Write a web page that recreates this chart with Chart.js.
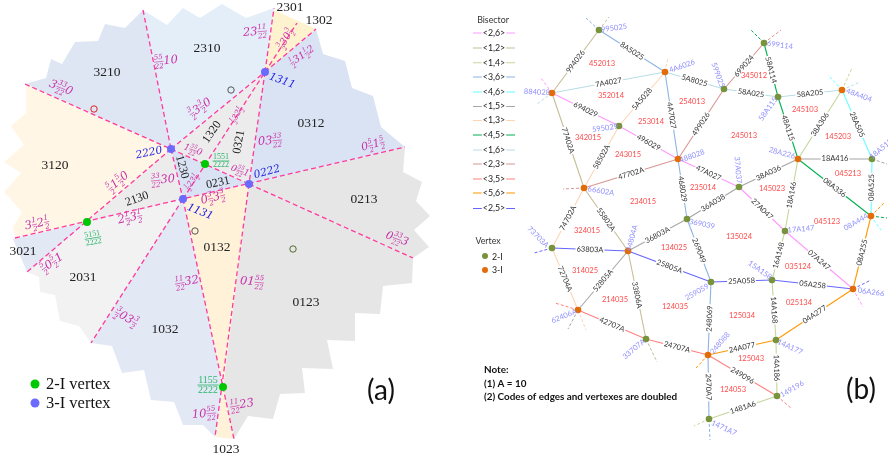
<!DOCTYPE html>
<html>
<head>
<meta charset="utf-8">
<style>html,body{margin:0;background:#fff}canvas{display:block}</style>
<script src="https://cdn.jsdelivr.net/npm/chart.js@4/dist/chart.umd.js"></script>
</head>
<body>
<canvas id="myChart" width="888" height="460"></canvas>
<script>
// ---- panel (a) data, in picture units ----
const regionNames = ['3210','2310','2301','0312','0213','0123','1023','0132','1032','2031','3021','3120','2130','1230','0231','1320','0321']
const regionShapes = [
    [[143,10],[125,28],[105,24],[98,41],[75,42],[62,64],[51,59],[46,78],[25,84],[171,149]],
    [[143,10],[167,25],[183,8],[200,18],[222,4],[246,18],[274,8],[265,72],[171,149]],
    [[274,10],[316,29],[265,72]],
    [[265,72],[316,29],[323,54],[345,61],[352,88],[373,96],[381,127],[405,147],[249,184]],
    [[249,184],[405,147],[403,172],[422,182],[416,201],[430,216],[414,230],[429,247],[413,258]],
    [[249,184],[413,258],[412,283],[383,286],[380,314],[355,313],[355,341],[327,340],[333,369],[302,368],[305,393],[280,394],[273,419],[248,416],[234,439],[223,387]],
    [[223,387],[234,439],[215,437]],
    [[183,199],[249,184],[223,387]],
    [[183,199],[223,387],[215,437],[203,425],[183,425],[174,402],[151,400],[144,370],[122,373],[112,346],[91,343]],
    [[183,199],[91,343],[79,326],[60,321],[55,295],[40,292],[39,277],[27,272],[87,222]],
    [[87,222],[27,272],[13,239]],
    [[25,84],[171,149],[87,222],[15,238],[13,227],[22,212],[4,192],[21,173],[4,162],[24,145],[11,126],[26,113],[26,87]],
    [[171,149],[183,199],[87,222]],
    [[171,149],[205,164],[183,199]],
    [[183,199],[205,164],[249,184]],
    [[171,149],[265,72],[205,164]],
    [[205,164],[265,72],[249,184]]
]
const regionColors = ['#dfe6f3','#e4eef9','#fff2cf','#dae3f3','#e6e6e6','#e6e6e6','#fff2d9','#fff2d9','#e3e8f5','#f2f2f2','#e3e8f5','#fff6e5','#ececec','#dae3f3','#dae3f3','#ececec','#ececec']

const bisectorLines = [
    [25,84,171,149],[143,10,171,149],[171,149,183,199],[171,149,265,72],[171,149,249,184],[249,184,413,258],
    [183,199,265,72],[171,149,27,272],[15,238,405,147],[183,199,91,343],[183,199,234,439],[249,184,215,437],
    [265,72,249,184],[265,72,274,8],[265,72,316,29],[265,72,297,23]
]
const twoIVertex = [[205,164],[87,222],[223,387]]
const threeIVertex = [[171,149],[183,199],[249,184],[265,72]]
const hollowPoints = [[94,109],[231,90],[195,231],[293,249]]
const hollowColors = ['#e02020','#555555','#555555','#4f6b2f']

// region code, x, y, angle
const codeLabels = [
    ['3210',107,72,0],['2310',207,48,0],['3120',55,165,0],['0312',311,123,0],['0213',364,199,0],['0123',306,302,0],
    ['1032',165,329,0],['0132',217,247,0],['2031',83,277,0],['3021',23,251,0],['1023',226,449,0],['2301',290,7,0],['1302',319,20,0],
    ['1230',182,167,75],['1320',212,132,-55],['0321',239,142,-80],['0231',218,183,-12],['2130',137,199,-20]
]
// bisector code with fractions, x, y, angle, size
const fracLabels = [
    ['3 33/22 0',61,88,22,11.5],['55/22 10',166,61,-6,11.5],['3/2 3 3/2 0',200,108,-35,11.5],['5/2 1 5/2 0',118,182,-40,11.5],
    ['33/22 30',163,180,-5,11.5],['1 55/22 0',193,150,20,9],['2 1/2 3 1/2',130,218,-12,11.5],['3 1/2 2 1/2',37,224,-12,11.5],
    ['1/2 23 1/2',192,182,-55,8],['1/2 32 1/2',237,115,-60,8],['0 3/2 3 3/2',213,198,-15,11.5],['0 55/22 1',240,171,20,9],
    ['23 11/22',255,32,-5,11.5],['3/2 30 3/2',286,39,-60,10],['1/2 31 1/2 2',302,56,-35,10],['03 33/22',270,141,-5,11.5],
    ['0 5/2 1 5/2',373,145,-15,11],['0 33/22 3',397,239,20,11],['01 55/22',252,282,5,11.5],['11/22 32',187,282,-10,11.5],
    ['10 55/22',204,414,-5,11.5],['11/22 23',242,405,-10,11.5],['3/2 0 3 3/2',126,318,30,11.5],['5/2 0 5/2 1',52,263,-35,11.5]
]
// numerator, denominator, x, y, angle, size
const greenFractions = [['1551','2222',221,161,0,8],['5151','2222',93,238,-10,8],['1155','2222',208,385,0,10]]
const blueCodes = [['2220',149,153,-12],['1131',200,212,22],['0222',267,172,-15],['1311',282,81,20]]

// ---- panel (b) data ----
const bisectorNames = ['<2,6>','<1,2>','<1,4>','<3,6>','<4,6>','<1,5>','<1,3>','<4,5>','<1,6>','<2,3>','<3,5>','<5,6>','<2,5>']
const bisectorColors = ['#ff99ff','#c4bd97','#c3d69b','#8eb4e3','#66ffff','#a6a6a6','#fcd5b5','#00b050','#b7dee8','#d99694','#ff8080','#ff9900','#6666ff']
const legendRows = [33,48,62.7,77,92,106.5,120.5,135,150,164,179,193,208.5]

// vertex code, x, y, kind (2 or 3), label x, label y, label angle
const vertices = [
    ['995025',599,30,2,614,28,-8],['884028',552,93,3,537,92,3],['595029',619,126,2,605,128,-8],['66602A',584,188,3,601,191,10],
    ['4A6026',665,72,3,682,66,-20],['699114',764,43,2,780,45,8],['599025',724,89,2,718,75,70],['58A115',778,97,2,768,109,-55],
    ['48A404',842,90,3,859,95,20],['488028',678,159,3,692,156,-20],['28A226',798,159,3,782,153,15],['18A515',872,159,2,881,149,-40],
    ['37A037',739,187,2,738,170,85],['369039',687,219,2,702,224,12],['08A444',871,216,3,856,222,-30],['17A147',785,231,2,801,229,-5],
    ['73703A',552,248,2,538,237,45],['44804A',628,251,3,632,238,-75],['62406A',578,310,3,564,316,-22],['33707A',646,339,2,634,349,-40],
    ['259059',711,282,2,697,292,-30],['15A158',772,280,2,760,270,35],['06A266',853,289,3,871,292,8],['248088',708,355,3,720,343,-50],
    ['14A177',776,340,2,790,347,25],['149196',777,396,2,792,389,-30],['1471A7',709,419,2,724,428,25]
]
// from, to, edge code, bisector
const edges = [
    ['995025','884028','994026','<1,2>'],['995025','4A6026','8A5025','<3,6>'],['884028','4A6026','7A4027','<1,6>'],
    ['884028','595029','694029','<2,6>'],['595029','488028','496029','<2,6>'],['884028','66602A','77402A','<1,2>'],
    ['595029','4A6026','5A5028','<1,3>'],['595029','66602A','58502A','<1,3>'],['66602A','488028','47702A','<2,3>'],
    ['4A6026','488028','4A7027','<3,6>'],['4A6026','599025','5A8025','<1,6>'],['599025','58A115','58A025','<1,6>'],
    ['58A115','48A404','58A205','<1,6>'],['599025','699114','699024','<2,3>'],['599025','488028','499026','<2,3>'],
    ['699114','58A115','58A114','<4,5>'],['58A115','28A226','48A115','<4,5>'],['48A404','28A226','38A306','<1,4>'],
    ['48A404','18A515','28A505','<4,6>'],['28A226','18A515','18A416','<1,5>'],['28A226','08A444','08A336','<4,5>'],
    ['18A515','08A444','08A525','<4,6>'],['28A226','17A147','18A146','<1,4>'],['28A226','37A037','38A036','<1,5>'],
    ['37A037','369039','36A038','<1,5>'],['37A037','488028','47A027','<2,6>'],['37A037','17A147','27A047','<2,6>'],
    ['17A147','06A266','07A247','<2,6>'],['488028','369039','468029','<3,6>'],['369039','44804A','36803A','<1,5>'],
    ['369039','259059','269049','<3,6>'],['44804A','73703A','63803A','<2,5>'],['44804A','259059','25805A','<2,5>'],
    ['44804A','66602A','55802A','<1,2>'],['73703A','66602A','74702A','<1,3>'],['73703A','62406A','72704A','<1,3>'],
    ['44804A','62406A','52805A','<1,5>'],['44804A','33707A','33806A','<1,2>'],['62406A','33707A','42707A','<3,5>'],
    ['33707A','248088','24707A','<3,5>'],['259059','15A158','25A058','<2,5>'],['15A158','06A266','05A258','<2,5>'],
    ['15A158','17A147','16A148','<1,4>'],['15A158','14A177','14A168','<1,4>'],['14A177','149196','14A186','<1,4>'],
    ['14A177','06A266','04A277','<5,6>'],['14A177','248088','24A077','<5,6>'],['259059','248088','248069','<3,6>'],
    ['248088','149196','249096','<3,5>'],['248088','1471A7','2470A7','<3,6>'],['149196','1471A7','1481A6','<1,4>'],
    ['06A266','08A444','08A255','<5,6>']
]
// dashed stubs leaving the graph: vertex, end x, end y, bisector
const stubs = [
    ['995025',586,18,'<3,6>'],['995025',609,17,'<1,2>'],['884028',541,78,'<2,6>'],['884028',537,104,'<1,6>'],['66602A',563,189,'<2,3>'],
    ['4A6026',668,57,'<1,3>'],['699114',750,29,'<4,5>'],['699114',781,30,'<2,3>'],['48A404',828,75,'<4,6>'],['48A404',852,68,'<1,4>'],
    ['48A404',860,82,'<1,6>'],['18A515',887,164,'<1,5>'],['08A444',885,202,'<5,6>'],['08A444',887,218,'<4,5>'],['08A444',881,230,'<4,6>'],
    ['06A266',871,280,'<2,5>'],['06A266',863,307,'<2,6>'],['73703A',534,253,'<2,5>'],['62406A',555,303,'<3,5>'],['62406A',568,329,'<1,5>'],
    ['62406A',586,330,'<1,3>'],['33707A',657,362,'<1,2>'],['248088',696,368,'<5,6>'],['149196',792,409,'<3,5>'],['1471A7',694,426,'<1,4>'],
    ['1471A7',710,440,'<3,6>']
]
// permutation labels, x, y
const faceLabels = [
    ['452013',602,64],['352014',611,96],['253014',651,122],['342015',588,138],['243015',628,155],['234015',643,202],['254013',692,102],
    ['345012',754,76],['245103',805,110],['245013',744,136],['145203',838,137],['045213',848,174],['235014',703,188],['145023',772,189],
    ['045123',827,222],['324015',587,231],['314025',585,271],['214035',615,300],['134025',674,248],['124035',675,307],['135024',739,237],
    ['035124',798,267],['025134',799,303],['125034',742,316],['125043',751,359],['124053',733,390]
]

const vertexAt = {}
vertices.forEach(v => { vertexAt[v[0]] = v })
const colorOf = b => bisectorColors[bisectorNames.indexOf(b)]
const toPts = list => list.map(p => ({x: p[0], y: p[1]}))

const MAGENTA = '#c930a8'
const SERIF = '"Liberation Serif", serif'
const MATH = '"DejaVu Serif", serif'
const SANS = 'Lato, sans-serif'

let datasets = []

regionShapes.forEach((shape, i) => {
    datasets.push({label: regionNames[i], data: toPts(shape), regionFill: regionColors[i], pointRadius: 0, showLine: false, order: 9})
})
bisectorLines.forEach(l => {
    datasets.push({data: [{x: l[0], y: l[1]}, {x: l[2], y: l[3]}], showLine: true, pointRadius: 0, borderColor: '#ff3a9e', borderWidth: 1.3, borderDash: [5, 3], order: 5})
})
stubs.forEach(s => {
    const v = vertexAt[s[0]]
    datasets.push({data: [{x: v[1], y: v[2]}, {x: s[1], y: s[2]}], showLine: true, pointRadius: 0, borderColor: colorOf(s[3]), borderWidth: 1, borderDash: [3, 2], order: 5})
})
edges.forEach(e => {
    const a = vertexAt[e[0]], b = vertexAt[e[1]]
    datasets.push({data: [{x: a[1], y: a[2]}, {x: b[1], y: b[2]}], showLine: true, pointRadius: 0, borderColor: colorOf(e[3]), borderWidth: 1.1, order: 5})
})
legendRows.forEach((y, i) => {
    datasets.push({data: [{x: 473, y: y}, {x: 515, y: y}], showLine: true, pointRadius: 0, borderColor: bisectorColors[i], borderWidth: 1.1, order: 5})
})
datasets.push({data: toPts(twoIVertex), pointRadius: 4, backgroundColor: '#00c800', borderWidth: 0, order: 1})
datasets.push({data: toPts(threeIVertex), pointRadius: 4, backgroundColor: '#6a6aff', borderWidth: 0, order: 1})
datasets.push({data: [{x: 35, y: 384}], pointRadius: 4.5, backgroundColor: '#00c800', borderWidth: 0, order: 1})
datasets.push({data: [{x: 35, y: 403}], pointRadius: 4.5, backgroundColor: '#6a6aff', borderWidth: 0, order: 1})
datasets.push({data: toPts(hollowPoints), pointRadius: 3.2, backgroundColor: 'rgba(0,0,0,0)', borderColor: hollowColors, borderWidth: 1, order: 1})
datasets.push({data: vertices.filter(v => v[3] == 2).map(v => ({x: v[1], y: v[2]})), pointRadius: 3.3, backgroundColor: '#77933c', borderWidth: 0, order: 1})
datasets.push({data: vertices.filter(v => v[3] == 3).map(v => ({x: v[1], y: v[2]})), pointRadius: 3.3, backgroundColor: '#e36c09', borderWidth: 0, order: 1})
datasets.push({data: [{x: 485, y: 256}], pointRadius: 3, backgroundColor: '#77933c', borderWidth: 0, order: 1})
datasets.push({data: [{x: 485, y: 270}], pointRadius: 3, backgroundColor: '#e36c09', borderWidth: 0, order: 1})

// fills the closed regions from the points the scales placed
const regionFill = {
    id: 'regionFill',
    beforeDatasetsDraw(chart) {
        const ctx = chart.ctx
        chart.data.datasets.forEach((ds, i) => {
            if (!ds.regionFill) return
            const pts = chart.getDatasetMeta(i).data
            ctx.beginPath()
            pts.forEach((p, k) => k ? ctx.lineTo(p.x, p.y) : ctx.moveTo(p.x, p.y))
            ctx.closePath()
            ctx.fillStyle = ds.regionFill
            ctx.fill()
        })
    }
}

function putText(ctx, str, px, py, deg, font, color, halo) {
    ctx.save()
    ctx.translate(px, py)
    ctx.rotate(deg * Math.PI / 180)
    ctx.font = font
    ctx.textAlign = 'center'
    ctx.textBaseline = 'middle'
    if (halo) {
        const w = ctx.measureText(str).width + 2
        ctx.fillStyle = '#fff'
        ctx.fillRect(-w / 2, -halo / 2, w, halo)
    }
    ctx.fillStyle = color
    ctx.fillText(str, 0, 0)
    ctx.restore()
}

function putFraction(ctx, spec, px, py, deg, size) {
    const small = size * 0.62
    const bigFont = 'italic ' + size + 'px ' + MATH
    const smallFont = 'italic ' + small + 'px ' + MATH
    const parts = spec.split(' ').map(t => {
        const f = t.split('/')
        ctx.font = f.length > 1 ? smallFont : bigFont
        const w = f.length > 1 ? Math.max(ctx.measureText(f[0]).width, ctx.measureText(f[1]).width) + 0.6 : ctx.measureText(t).width
        return {f: f, w: w}
    })
    const total = parts.reduce((s, p) => s + p.w, 0)
    ctx.save()
    ctx.translate(px, py)
    ctx.rotate(deg * Math.PI / 180)
    ctx.fillStyle = MAGENTA
    ctx.strokeStyle = MAGENTA
    ctx.lineWidth = 0.6
    ctx.textAlign = 'center'
    ctx.textBaseline = 'middle'
    let x = -total / 2
    parts.forEach(p => {
        if (p.f.length > 1) {
            ctx.font = smallFont
            ctx.fillText(p.f[0], x + p.w / 2, -small * 0.62)
            ctx.fillText(p.f[1], x + p.w / 2, small * 0.68)
            ctx.beginPath()
            ctx.moveTo(x, 0)
            ctx.lineTo(x + p.w, 0)
            ctx.stroke()
        } else {
            ctx.font = bigFont
            ctx.fillText(p.f[0], x + p.w / 2, 0)
        }
        x += p.w
    })
    ctx.restore()
}

const textLayer = {
    id: 'textLayer',
    afterDatasetsDraw(chart) {
        const ctx = chart.ctx
        const X = v => chart.scales.x.getPixelForValue(v)
        const Y = v => chart.scales.y.getPixelForValue(v)

        // panel (a)
        codeLabels.forEach(l => putText(ctx, l[0], X(l[1]), Y(l[2]), l[3], (l[3] ? '12px ' : '13.5px ') + SERIF, '#222'))
        fracLabels.forEach(l => putFraction(ctx, l[0], X(l[1]), Y(l[2]), l[3], l[4]))
        greenFractions.forEach(g => {
            const size = g[5]
            ctx.save()
            ctx.translate(X(g[2]), Y(g[3]))
            ctx.rotate(g[4] * Math.PI / 180)
            ctx.font = size + 'px ' + SERIF
            ctx.textAlign = 'center'
            ctx.textBaseline = 'middle'
            ctx.fillStyle = '#2cb46e'
            ctx.fillText(g[0], 0, -size / 2)
            ctx.fillText(g[1], 0, size / 2 + 0.2)
            ctx.fillRect(-size * 1.05, -0.4, size * 2.1, 0.8)
            ctx.restore()
        })
        blueCodes.forEach(l => putText(ctx, l[0], X(l[1]), Y(l[2]), l[3], 'italic 10.6px ' + MATH, '#2020e8'))
        ctx.font = '16.5px ' + SERIF
        ctx.textAlign = 'left'
        ctx.textBaseline = 'middle'
        ctx.fillStyle = '#111'
        ctx.fillText('2-I vertex', X(46), Y(385))
        ctx.fillText('3-I vertex', X(46), Y(404))
        putText(ctx, '(a)', X(381), Y(391), 0, '28px ' + SANS, '#111')

        // panel (b)
        edges.forEach(e => {
            const a = vertexAt[e[0]], b = vertexAt[e[1]]
            let deg = Math.atan2(b[2] - a[2], b[1] - a[1]) * 180 / Math.PI
            if (deg > 90) deg -= 180
            if (deg <= -90) deg += 180
            putText(ctx, e[2], X((a[1] + b[1]) / 2), Y((a[2] + b[2]) / 2), deg, '7.5px ' + SANS, '#333', 7.5)
        })
        vertices.forEach(v => putText(ctx, v[0], X(v[4]), Y(v[5]), v[6], '7.5px ' + SANS, '#8f8fff'))
        faceLabels.forEach(f => putText(ctx, f[0], X(f[1]), Y(f[2]), 0, '7.5px ' + SANS, '#ff4848'))

        putText(ctx, 'Bisector', X(493), Y(20), 0, '8.8px ' + SANS, '#333')
        bisectorNames.forEach((n, i) => putText(ctx, n, X(494), Y(legendRows[i]), 0, '8.8px ' + SANS, '#222', 8))
        putText(ctx, 'Vertex', X(488), Y(241), 0, '8.8px ' + SANS, '#333')
        ctx.font = '8.8px ' + SANS
        ctx.textAlign = 'left'
        ctx.textBaseline = 'middle'
        ctx.fillStyle = '#222'
        ctx.fillText('2-I', X(492), Y(257))
        ctx.fillText('3-I', X(492), Y(270))
        ctx.font = 'bold 9.9px ' + SANS
        ctx.fillStyle = '#111'
        ctx.fillText('Note:', X(484), Y(370))
        ctx.fillText('(1) A = 10', X(484), Y(383.5))
        ctx.fillText('(2) Codes of edges and vertexes are doubled', X(484), Y(397))
        putText(ctx, '(b)', X(861), Y(390), 0, '28px ' + SANS, '#111')
    }
}

var myChart = new Chart(document.getElementById('myChart'), {
    type: 'scatter',
    data: {datasets: datasets},
    options: {
        responsive: false,
        animation: false,
        devicePixelRatio: 1,
        layout: {padding: 0, autoPadding: false},
        clip: false,
        scales: {
            x: {type: 'linear', min: 0, max: 888, display: false},
            y: {type: 'linear', min: 0, max: 460, reverse: true, display: false}
        },
        plugins: {legend: {display: false}, tooltip: {enabled: false}}
    },
    plugins: [regionFill, textLayer]
})
</script>
</body>
</html>
